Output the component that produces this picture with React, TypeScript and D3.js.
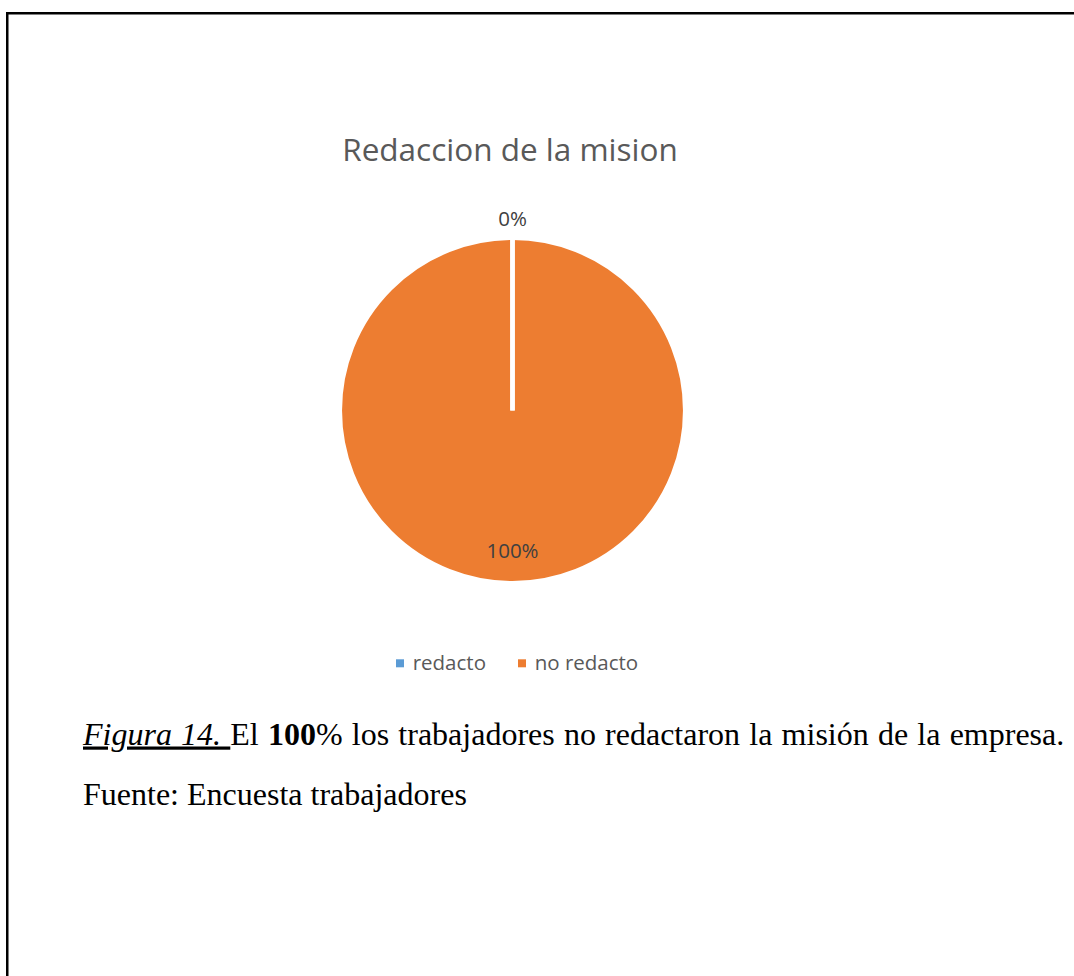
import React from "react";
import * as d3 from "d3";

const categories = ["redacto", "no redacto"];
const values = [0, 100];
const labels = ["0%", "100%"];
const colors = ["#5B9BD5", "#ED7D31"];
const title = "Redaccion de la mision";

const W = 1074;
const H = 976;

export default function App() {
  const cx = 512.5;
  const cy = 410.5;
  const r = 172.7;
  const pie = d3.pie<number>().value((d) => d).sort(null).startAngle(0).endAngle(2 * Math.PI);
  const arcs = pie(values);
  const arc = d3.arc<d3.PieArcDatum<number>>().innerRadius(0).outerRadius(r);
  const labelPos = [
    [cx, 225.7],
    [cx, 557.7],
  ];
  const legendX = [396, 518];
  const sans = "'Open Sans', sans-serif";
  const serif = "'Liberation Serif', 'Times New Roman', serif";
  const radial = d3.line();

  return (
    <svg
      width={W}
      height={H}
      style={{ position: "absolute", left: 0, top: 0, background: "#fff" }}
    >
      <rect x={0} y={0} width={W} height={H} fill="#fff" />
      <rect x={7.25} y={13.25} width={W + 50} height={H + 50} fill="none" stroke="#000" strokeWidth={2.5} />
      <text x={510} y={161} textAnchor="middle" fontFamily={sans} fontSize={31.5} fill="#595959">
        {title}
      </text>
      <g transform={`translate(${cx},${cy})`}>
        {arcs.map((a, i) => (
          <path key={i} d={arc(a) || ""} fill={colors[i]} stroke="#fff" strokeWidth={4.5} />
        ))}
        {arcs.map((a, i) => (
          <path
            key={"b" + i}
            d={radial([[0, 0], d3.pointRadial(a.startAngle, r + 2)]) || ""}
            stroke="#fff"
            strokeWidth={4.5}
            fill="none"
          />
        ))}
      </g>
      {labels.map((l, i) => (
        <text key={i} x={labelPos[i][0]} y={labelPos[i][1]} textAnchor="middle" fontFamily={sans} fontSize={20.5} fill="#404040">
          {l}
        </text>
      ))}
      {categories.map((c, i) => (
        <g key={c}>
          <rect x={legendX[i]} y={659.3} width={8} height={8} fill={colors[i]} />
          <text x={legendX[i] + 16.7} y={670} fontFamily={sans} fontSize={20.5} fill="#595959">
            {c}
          </text>
        </g>
      ))}
      <text x={83} y={744.5} fontFamily={serif} fontSize={32} fill="#000" wordSpacing={1.2} style={{ whiteSpace: "pre" }}>
        <tspan fontStyle="italic" textDecoration="underline">{"Figura 14. "}</tspan>
        <tspan>{"El "}</tspan>
        <tspan fontWeight="bold">{"100"}</tspan>
        <tspan>{"% los trabajadores no redactaron la misión de la empresa."}</tspan>
      </text>
      <text x={83} y={804.5} fontFamily={serif} fontSize={32} fill="#000">
        Fuente: Encuesta trabajadores
      </text>
    </svg>
  );
}
